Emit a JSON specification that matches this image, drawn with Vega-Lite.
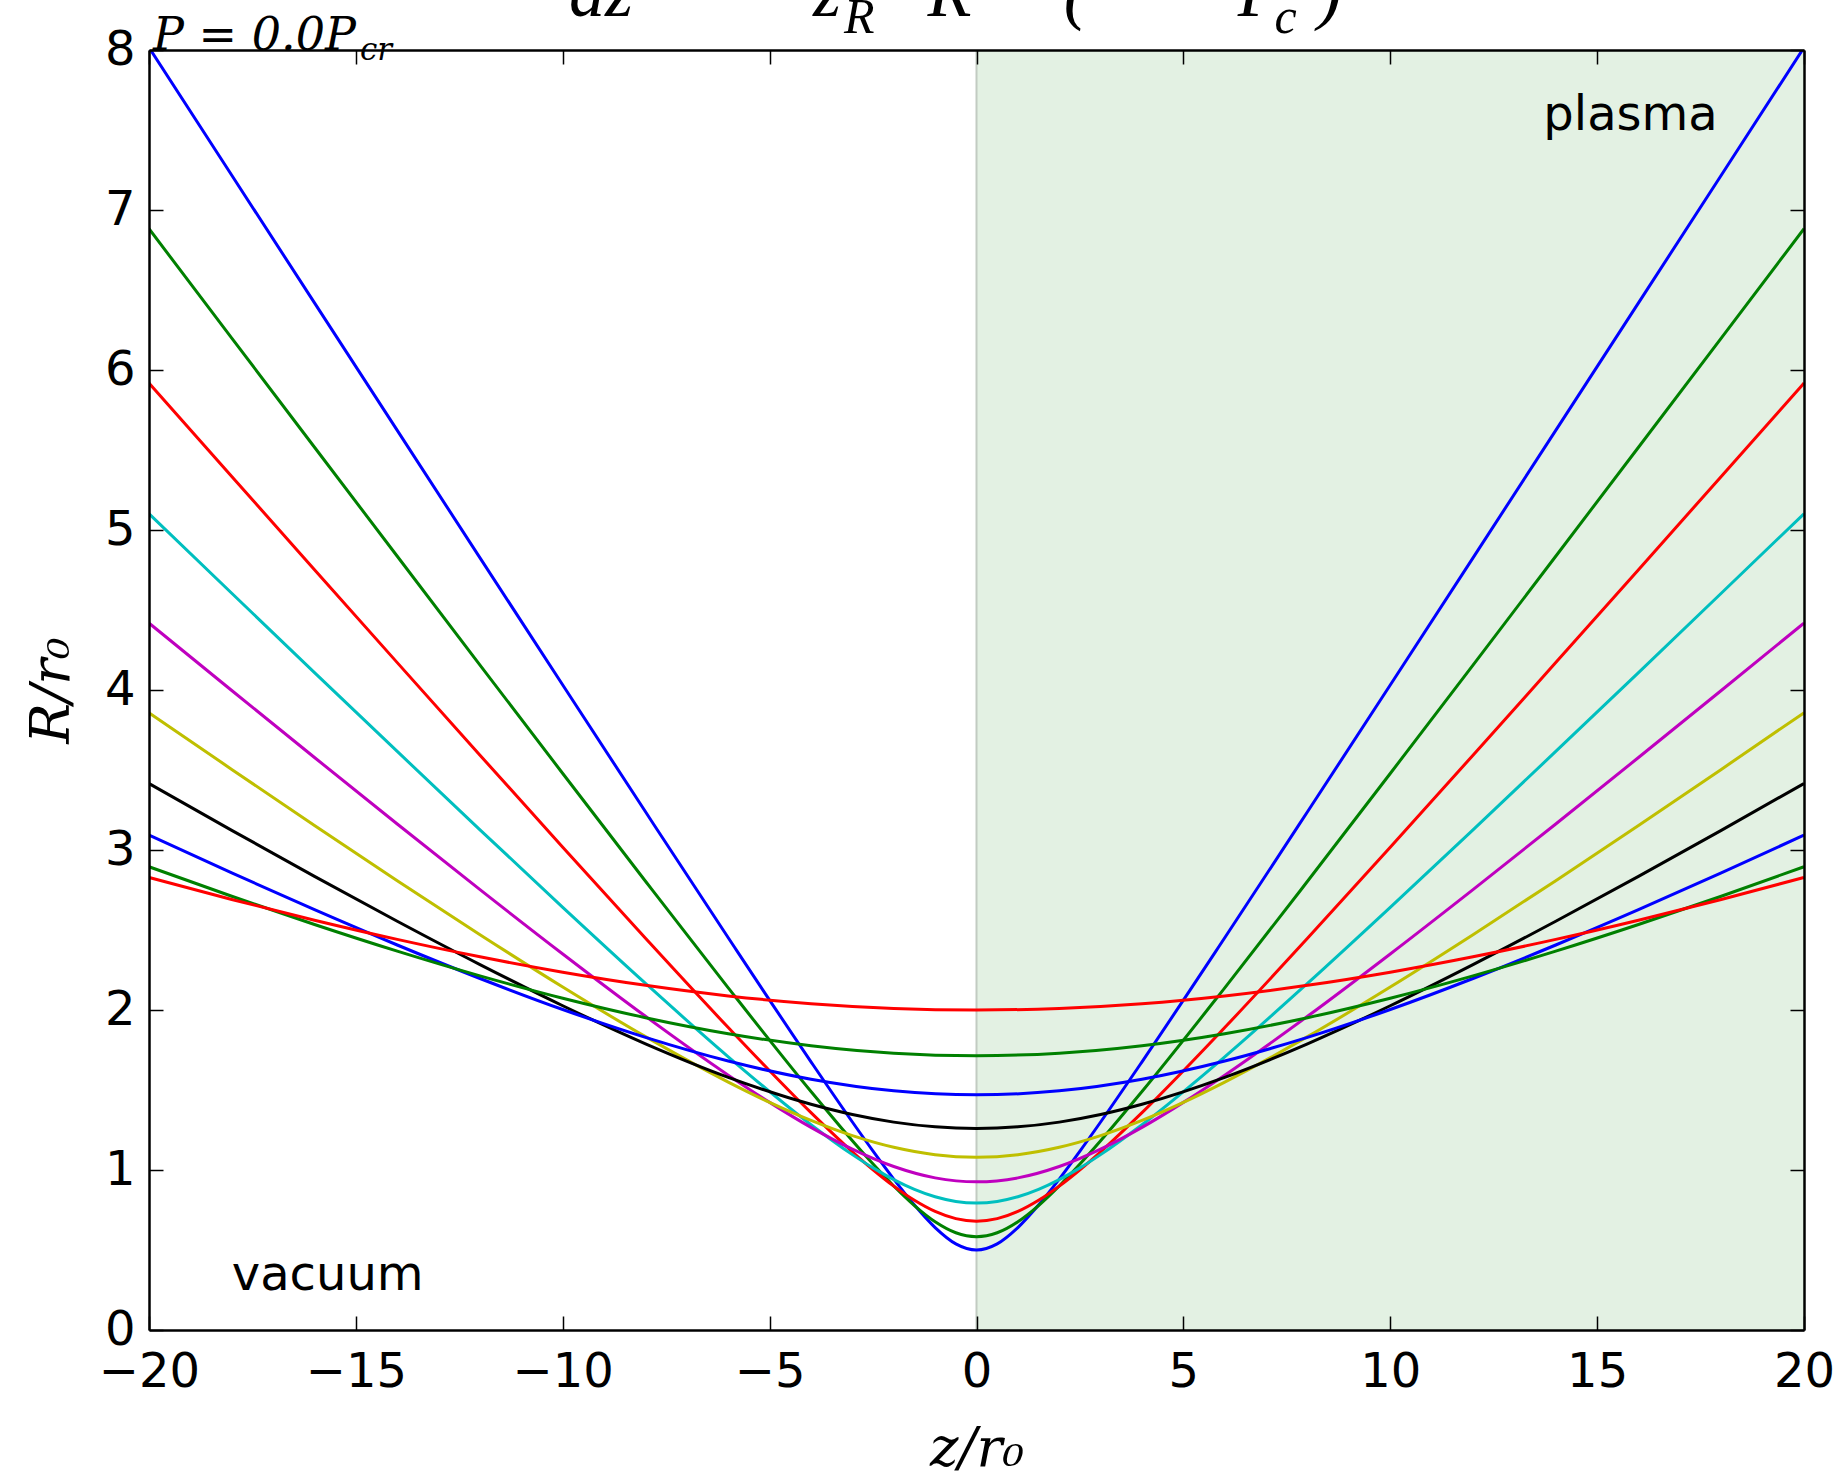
{
  "$schema": "https://vega.github.io/schema/vega-lite/v6.json",
  "width": 1655,
  "height": 1280,
  "autosize": "none",
  "padding": {"left": 149, "top": 50, "right": 36, "bottom": 149},
  "background": "white",
  "config": {"view": {"stroke": null}, "axis": {"grid": false}},
  "title": {
    "text": "dz\u2003\u2003\u2002z\u2003\u2009R\u2003\u2009\u200a(\u2003\u2003\u200aP\u2002)",
    "subtitle": "\u200b\u2003\u2003\u2003\u2003\u2003\u2002R\u2003\u2003\u2003\u2003\u2003\u2003\u2003\u2003c",
    "anchor": "start",
    "frame": "group",
    "dx": 420,
    "offset": -88,
    "baseline": "alphabetic",
    "font": "Liberation Serif",
    "fontStyle": "italic",
    "fontWeight": "normal",
    "fontSize": 72,
    "color": "black",
    "subtitleFont": "Liberation Serif",
    "subtitleFontStyle": "italic",
    "subtitleFontSize": 50,
    "subtitleColor": "black",
    "subtitlePadding": -55
  },
  "datasets": {
    "curves": [
      {"s": "s0", "z": -20, "r": 8.0156}, {"s": "s0", "z": -18, "r": 7.2173}, {"s": "s0", "z": -16, "r": 6.4195}, {"s": "s0", "z": -14, "r": 5.6223}, {"s": "s0", "z": -12, "r": 4.826}, {"s": "s0", "z": -10, "r": 4.0311}, {"s": "s0", "z": -8, "r": 3.2388}, {"s": "s0", "z": -6, "r": 2.4515}, {"s": "s0", "z": -4, "r": 1.6763}, {"s": "s0", "z": -3, "r": 1.3}, {"s": "s0", "z": -2.5, "r": 1.118}, {"s": "s0", "z": -2, "r": 0.9434}, {"s": "s0", "z": -1.5, "r": 0.781}, {"s": "s0", "z": -1, "r": 0.6403}, {"s": "s0", "z": -0.5, "r": 0.5385}, {"s": "s0", "z": 0, "r": 0.5}, {"s": "s0", "z": 0.5, "r": 0.5385}, {"s": "s0", "z": 1, "r": 0.6403}, {"s": "s0", "z": 1.5, "r": 0.781}, {"s": "s0", "z": 2, "r": 0.9434}, {"s": "s0", "z": 2.5, "r": 1.118}, {"s": "s0", "z": 3, "r": 1.3}, {"s": "s0", "z": 4, "r": 1.6763}, {"s": "s0", "z": 6, "r": 2.4515}, {"s": "s0", "z": 8, "r": 3.2388}, {"s": "s0", "z": 10, "r": 4.0311}, {"s": "s0", "z": 12, "r": 4.826}, {"s": "s0", "z": 14, "r": 5.6223}, {"s": "s0", "z": 16, "r": 6.4195}, {"s": "s0", "z": 18, "r": 7.2173}, {"s": "s0", "z": 20, "r": 8.0156},
      {"s": "s1", "z": -20, "r": 6.8827}, {"s": "s1", "z": -18, "r": 6.1997}, {"s": "s1", "z": -16, "r": 5.5173}, {"s": "s1", "z": -14, "r": 4.8359}, {"s": "s1", "z": -12, "r": 4.1559}, {"s": "s1", "z": -10, "r": 3.4782}, {"s": "s1", "z": -8, "r": 2.8045}, {"s": "s1", "z": -6, "r": 2.1385}, {"s": "s1", "z": -4, "r": 1.4905}, {"s": "s1", "z": -3, "r": 1.1826}, {"s": "s1", "z": -2.5, "r": 1.0369}, {"s": "s1", "z": -2, "r": 0.9003}, {"s": "s1", "z": -1.5, "r": 0.7777}, {"s": "s1", "z": -1, "r": 0.6766}, {"s": "s1", "z": -0.5, "r": 0.6079}, {"s": "s1", "z": 0, "r": 0.5833}, {"s": "s1", "z": 0.5, "r": 0.6079}, {"s": "s1", "z": 1, "r": 0.6766}, {"s": "s1", "z": 1.5, "r": 0.7777}, {"s": "s1", "z": 2, "r": 0.9003}, {"s": "s1", "z": 2.5, "r": 1.0369}, {"s": "s1", "z": 3, "r": 1.1826}, {"s": "s1", "z": 4, "r": 1.4905}, {"s": "s1", "z": 6, "r": 2.1385}, {"s": "s1", "z": 8, "r": 2.8045}, {"s": "s1", "z": 10, "r": 3.4782}, {"s": "s1", "z": 12, "r": 4.1559}, {"s": "s1", "z": 14, "r": 4.8359}, {"s": "s1", "z": 16, "r": 5.5173}, {"s": "s1", "z": 18, "r": 6.1997}, {"s": "s1", "z": 20, "r": 6.8827},
      {"s": "s2", "z": -20, "r": 5.9182}, {"s": "s2", "z": -18, "r": 5.3346}, {"s": "s2", "z": -16, "r": 4.7521}, {"s": "s2", "z": -14, "r": 4.1711}, {"s": "s2", "z": -12, "r": 3.5924}, {"s": "s2", "z": -10, "r": 3.0172}, {"s": "s2", "z": -8, "r": 2.448}, {"s": "s2", "z": -6, "r": 1.8904}, {"s": "s2", "z": -4, "r": 1.3585}, {"s": "s2", "z": -3, "r": 1.1138}, {"s": "s2", "z": -2.5, "r": 1.0015}, {"s": "s2", "z": -2, "r": 0.8992}, {"s": "s2", "z": -1.5, "r": 0.8108}, {"s": "s2", "z": -1, "r": 0.7412}, {"s": "s2", "z": -0.5, "r": 0.6961}, {"s": "s2", "z": 0, "r": 0.6804}, {"s": "s2", "z": 0.5, "r": 0.6961}, {"s": "s2", "z": 1, "r": 0.7412}, {"s": "s2", "z": 1.5, "r": 0.8108}, {"s": "s2", "z": 2, "r": 0.8992}, {"s": "s2", "z": 2.5, "r": 1.0015}, {"s": "s2", "z": 3, "r": 1.1138}, {"s": "s2", "z": 4, "r": 1.3585}, {"s": "s2", "z": 6, "r": 1.8904}, {"s": "s2", "z": 8, "r": 2.448}, {"s": "s2", "z": 10, "r": 3.0172}, {"s": "s2", "z": 12, "r": 3.5924}, {"s": "s2", "z": 14, "r": 4.1711}, {"s": "s2", "z": 16, "r": 4.7521}, {"s": "s2", "z": 18, "r": 5.3346}, {"s": "s2", "z": 20, "r": 5.9182},
      {"s": "s3", "z": -20, "r": 5.1018}, {"s": "s3", "z": -18, "r": 4.6046}, {"s": "s3", "z": -16, "r": 4.1091}, {"s": "s3", "z": -14, "r": 3.616}, {"s": "s3", "z": -12, "r": 3.1262}, {"s": "s3", "z": -10, "r": 2.6419}, {"s": "s3", "z": -8, "r": 2.1665}, {"s": "s3", "z": -6, "r": 1.7076}, {"s": "s3", "z": -4, "r": 1.2829}, {"s": "s3", "z": -3, "r": 1.0961}, {"s": "s3", "z": -2.5, "r": 1.0133}, {"s": "s3", "z": -2, "r": 0.9402}, {"s": "s3", "z": -1.5, "r": 0.8791}, {"s": "s3", "z": -1, "r": 0.8327}, {"s": "s3", "z": -0.5, "r": 0.8036}, {"s": "s3", "z": 0, "r": 0.7937}, {"s": "s3", "z": 0.5, "r": 0.8036}, {"s": "s3", "z": 1, "r": 0.8327}, {"s": "s3", "z": 1.5, "r": 0.8791}, {"s": "s3", "z": 2, "r": 0.9402}, {"s": "s3", "z": 2.5, "r": 1.0133}, {"s": "s3", "z": 3, "r": 1.0961}, {"s": "s3", "z": 4, "r": 1.2829}, {"s": "s3", "z": 6, "r": 1.7076}, {"s": "s3", "z": 8, "r": 2.1665}, {"s": "s3", "z": 10, "r": 2.6419}, {"s": "s3", "z": 12, "r": 3.1262}, {"s": "s3", "z": 14, "r": 3.616}, {"s": "s3", "z": 16, "r": 4.1091}, {"s": "s3", "z": 18, "r": 4.6046}, {"s": "s3", "z": 20, "r": 5.1018},
      {"s": "s4", "z": -20, "r": 4.4183}, {"s": "s4", "z": -18, "r": 3.9969}, {"s": "s4", "z": -16, "r": 3.5781}, {"s": "s4", "z": -14, "r": 3.1627}, {"s": "s4", "z": -12, "r": 2.7525}, {"s": "s4", "z": -10, "r": 2.3502}, {"s": "s4", "z": -8, "r": 1.9605}, {"s": "s4", "z": -6, "r": 1.5928}, {"s": "s4", "z": -5, "r": 1.4226}, {"s": "s4", "z": -4, "r": 1.2664}, {"s": "s4", "z": -3, "r": 1.1301}, {"s": "s4", "z": -2, "r": 1.0217}, {"s": "s4", "z": -1, "r": 0.9507}, {"s": "s4", "z": 0, "r": 0.9259}, {"s": "s4", "z": 1, "r": 0.9507}, {"s": "s4", "z": 2, "r": 1.0217}, {"s": "s4", "z": 3, "r": 1.1301}, {"s": "s4", "z": 4, "r": 1.2664}, {"s": "s4", "z": 5, "r": 1.4226}, {"s": "s4", "z": 6, "r": 1.5928}, {"s": "s4", "z": 8, "r": 1.9605}, {"s": "s4", "z": 10, "r": 2.3502}, {"s": "s4", "z": 12, "r": 2.7525}, {"s": "s4", "z": 14, "r": 3.1627}, {"s": "s4", "z": 16, "r": 3.5781}, {"s": "s4", "z": 18, "r": 3.9969}, {"s": "s4", "z": 20, "r": 4.4183},
      {"s": "s5", "z": -20, "r": 3.8578}, {"s": "s5", "z": -18, "r": 3.5038}, {"s": "s5", "z": -16, "r": 3.1535}, {"s": "s5", "z": -14, "r": 2.8084}, {"s": "s5", "z": -12, "r": 2.4707}, {"s": "s5", "z": -10, "r": 2.1437}, {"s": "s5", "z": -8, "r": 1.8333}, {"s": "s5", "z": -6, "r": 1.5495}, {"s": "s5", "z": -5, "r": 1.4226}, {"s": "s5", "z": -4, "r": 1.3096}, {"s": "s5", "z": -3, "r": 1.2146}, {"s": "s5", "z": -2, "r": 1.1418}, {"s": "s5", "z": -1, "r": 1.0958}, {"s": "s5", "z": 0, "r": 1.0801}, {"s": "s5", "z": 1, "r": 1.0958}, {"s": "s5", "z": 2, "r": 1.1418}, {"s": "s5", "z": 3, "r": 1.2146}, {"s": "s5", "z": 4, "r": 1.3096}, {"s": "s5", "z": 5, "r": 1.4226}, {"s": "s5", "z": 6, "r": 1.5495}, {"s": "s5", "z": 8, "r": 1.8333}, {"s": "s5", "z": 10, "r": 2.1437}, {"s": "s5", "z": 12, "r": 2.4707}, {"s": "s5", "z": 14, "r": 2.8084}, {"s": "s5", "z": 16, "r": 3.1535}, {"s": "s5", "z": 18, "r": 3.5038}, {"s": "s5", "z": 20, "r": 3.8578},
      {"s": "s6", "z": -20, "r": 3.4156}, {"s": "s6", "z": -18, "r": 3.1228}, {"s": "s6", "z": -16, "r": 2.8352}, {"s": "s6", "z": -14, "r": 2.5546}, {"s": "s6", "z": -12, "r": 2.2838}, {"s": "s6", "z": -10, "r": 2.0266}, {"s": "s6", "z": -8, "r": 1.7889}, {"s": "s6", "z": -6, "r": 1.5794}, {"s": "s6", "z": -4, "r": 1.4109}, {"s": "s6", "z": -3, "r": 1.3469}, {"s": "s6", "z": -2, "r": 1.2993}, {"s": "s6", "z": -1, "r": 1.2699}, {"s": "s6", "z": 0, "r": 1.2599}, {"s": "s6", "z": 1, "r": 1.2699}, {"s": "s6", "z": 2, "r": 1.2993}, {"s": "s6", "z": 3, "r": 1.3469}, {"s": "s6", "z": 4, "r": 1.4109}, {"s": "s6", "z": 6, "r": 1.5794}, {"s": "s6", "z": 8, "r": 1.7889}, {"s": "s6", "z": 10, "r": 2.0266}, {"s": "s6", "z": 12, "r": 2.2838}, {"s": "s6", "z": 14, "r": 2.5546}, {"s": "s6", "z": 16, "r": 2.8352}, {"s": "s6", "z": 18, "r": 3.1228}, {"s": "s6", "z": 20, "r": 3.4156},
      {"s": "s7", "z": -20, "r": 3.0931}, {"s": "s7", "z": -18, "r": 2.8566}, {"s": "s7", "z": -16, "r": 2.6269}, {"s": "s7", "z": -14, "r": 2.4062}, {"s": "s7", "z": -12, "r": 2.197}, {"s": "s7", "z": -10, "r": 2.003}, {"s": "s7", "z": -8, "r": 1.829}, {"s": "s7", "z": -6, "r": 1.6813}, {"s": "s7", "z": -4, "r": 1.5673}, {"s": "s7", "z": -2, "r": 1.4947}, {"s": "s7", "z": 0, "r": 1.4697}, {"s": "s7", "z": 2, "r": 1.4947}, {"s": "s7", "z": 4, "r": 1.5673}, {"s": "s7", "z": 6, "r": 1.6813}, {"s": "s7", "z": 8, "r": 1.829}, {"s": "s7", "z": 10, "r": 2.003}, {"s": "s7", "z": 12, "r": 2.197}, {"s": "s7", "z": 14, "r": 2.4062}, {"s": "s7", "z": 16, "r": 2.6269}, {"s": "s7", "z": 18, "r": 2.8566}, {"s": "s7", "z": 20, "r": 3.0931},
      {"s": "s8", "z": -20, "r": 2.8953}, {"s": "s8", "z": -18, "r": 2.7108}, {"s": "s8", "z": -16, "r": 2.5344}, {"s": "s8", "z": -14, "r": 2.3678}, {"s": "s8", "z": -12, "r": 2.2134}, {"s": "s8", "z": -10, "r": 2.0737}, {"s": "s8", "z": -8, "r": 1.952}, {"s": "s8", "z": -6, "r": 1.8519}, {"s": "s8", "z": -4, "r": 1.7769}, {"s": "s8", "z": -2, "r": 1.7303}, {"s": "s8", "z": 0, "r": 1.7145}, {"s": "s8", "z": 2, "r": 1.7303}, {"s": "s8", "z": 4, "r": 1.7769}, {"s": "s8", "z": 6, "r": 1.8519}, {"s": "s8", "z": 8, "r": 1.952}, {"s": "s8", "z": 10, "r": 2.0737}, {"s": "s8", "z": 12, "r": 2.2134}, {"s": "s8", "z": 14, "r": 2.3678}, {"s": "s8", "z": 16, "r": 2.5344}, {"s": "s8", "z": 18, "r": 2.7108}, {"s": "s8", "z": 20, "r": 2.8953},
      {"s": "s9", "z": -20, "r": 2.8284}, {"s": "s9", "z": -18, "r": 2.6907}, {"s": "s9", "z": -16, "r": 2.5612}, {"s": "s9", "z": -14, "r": 2.4413}, {"s": "s9", "z": -12, "r": 2.3324}, {"s": "s9", "z": -10, "r": 2.2361}, {"s": "s9", "z": -8, "r": 2.1541}, {"s": "s9", "z": -6, "r": 2.0881}, {"s": "s9", "z": -4, "r": 2.0396}, {"s": "s9", "z": -2, "r": 2.01}, {"s": "s9", "z": 0, "r": 2.0}, {"s": "s9", "z": 2, "r": 2.01}, {"s": "s9", "z": 4, "r": 2.0396}, {"s": "s9", "z": 6, "r": 2.0881}, {"s": "s9", "z": 8, "r": 2.1541}, {"s": "s9", "z": 10, "r": 2.2361}, {"s": "s9", "z": 12, "r": 2.3324}, {"s": "s9", "z": 14, "r": 2.4413}, {"s": "s9", "z": 16, "r": 2.5612}, {"s": "s9", "z": 18, "r": 2.6907}, {"s": "s9", "z": 20, "r": 2.8284}
    ],
    "region": [{"z0": 0, "z1": 20, "r0": 0, "r1": 8}],
    "notes": [{"t": "plasma", "z": 13.7, "r": 7.5}, {"t": "vacuum", "z": -18, "r": 0.25}],
    "power": [{"t": "P = 0.0P", "z": -20, "r": 8}],
    "powersub": [{"t": "cr", "z": -14.9, "r": 7.94}]
  },
  "layer": [
    {
      "data": {"name": "region"},
      "mark": {"type": "rect", "fill": "#008000", "opacity": 0.11, "stroke": null},
      "encoding": {
        "x": {"field": "z0", "type": "quantitative", "scale": {"domain": [-20, 20], "nice": false, "zero": false},
          "axis": {"orient": "bottom", "values": [-20, -15, -10, -5, 0, 5, 10, 15, 20], "title": "z/r\u2080",
            "titleFont": "DejaVu Serif", "titleFontStyle": "italic", "titleFontWeight": "normal", "titleFontSize": 54, "titleColor": "black", "titlePadding": 26,
            "labelFont": "DejaVu Sans", "labelFontSize": 48, "labelColor": "black", "labelPadding": 32, "labelFlush": false, "labelOverlap": false,
            "tickSize": -14, "tickColor": "black", "tickWidth": 1.5, "domainColor": "black", "domainWidth": 2.5, "zindex": 1}},
        "x2": {"field": "z1"},
        "y": {"field": "r0", "type": "quantitative", "scale": {"domain": [0, 8], "nice": false, "zero": false},
          "axis": {"orient": "left", "values": [0, 1, 2, 3, 4, 5, 6, 7, 8], "title": "R/r\u2080",
            "titleFont": "DejaVu Serif", "titleFontStyle": "italic", "titleFontWeight": "normal", "titleFontSize": 54, "titleColor": "black", "titlePadding": 25,
            "labelFont": "DejaVu Sans", "labelFontSize": 48, "labelColor": "black", "labelPadding": 28, "labelFlush": false, "labelOverlap": false,
            "tickSize": -14, "tickColor": "black", "tickWidth": 1.5, "domainColor": "black", "domainWidth": 2.5, "zindex": 1}},
        "y2": {"field": "r1"}
      }
    },
    {
      "data": {"name": "region"},
      "mark": {"type": "rule", "color": "#c2cbc2", "strokeWidth": 2},
      "encoding": {
        "x": {"field": "z0", "type": "quantitative", "scale": {"domain": [-20, 20], "nice": false, "zero": false}, "axis": null}
      }
    },
    {
      "data": {"name": "curves"},
      "mark": {"type": "line", "strokeWidth": 3, "interpolate": "monotone", "clip": true},
      "encoding": {
        "x": {"field": "z", "type": "quantitative", "scale": {"domain": [-20, 20], "nice": false, "zero": false},
          "axis": {"orient": "top", "values": [-20, -15, -10, -5, 0, 5, 10, 15, 20], "labels": false, "title": null,
            "tickSize": -14, "tickColor": "black", "tickWidth": 1.5, "domainColor": "black", "domainWidth": 2.5, "zindex": 1}},
        "y": {"field": "r", "type": "quantitative", "scale": {"domain": [0, 8], "nice": false, "zero": false},
          "axis": {"orient": "right", "values": [0, 1, 2, 3, 4, 5, 6, 7, 8], "labels": false, "title": null,
            "tickSize": -14, "tickColor": "black", "tickWidth": 1.5, "domainColor": "black", "domainWidth": 2.5, "zindex": 1}},
        "color": {"field": "s", "type": "nominal", "legend": null,
          "scale": {"domain": ["s0", "s1", "s2", "s3", "s4", "s5", "s6", "s7", "s8", "s9"],
            "range": ["#0000ff", "#008000", "#ff0000", "#00bfbf", "#bf00bf", "#bfbf00", "#000000", "#0000ff", "#008000", "#ff0000"]}}
      }
    },
    {
      "data": {"name": "notes"},
      "mark": {"type": "text", "font": "DejaVu Sans", "fontSize": 48, "align": "left", "baseline": "alphabetic", "color": "black"},
      "encoding": {
        "x": {"field": "z", "type": "quantitative", "scale": {"domain": [-20, 20], "nice": false, "zero": false}, "axis": null},
        "y": {"field": "r", "type": "quantitative", "scale": {"domain": [0, 8], "nice": false, "zero": false}, "axis": null},
        "text": {"field": "t"}
      }
    },
    {
      "data": {"name": "power"},
      "mark": {"type": "text", "font": "DejaVu Serif", "fontStyle": "italic", "fontSize": 46, "align": "left", "baseline": "alphabetic", "color": "black", "dx": 4},
      "encoding": {
        "x": {"field": "z", "type": "quantitative", "scale": {"domain": [-20, 20], "nice": false, "zero": false}, "axis": null},
        "y": {"field": "r", "type": "quantitative", "scale": {"domain": [0, 8], "nice": false, "zero": false}, "axis": null},
        "text": {"field": "t"}
      }
    },
    {
      "data": {"name": "powersub"},
      "mark": {"type": "text", "font": "DejaVu Serif", "fontStyle": "italic", "fontSize": 31, "align": "left", "baseline": "alphabetic", "color": "black"},
      "encoding": {
        "x": {"field": "z", "type": "quantitative", "scale": {"domain": [-20, 20], "nice": false, "zero": false}, "axis": null},
        "y": {"field": "r", "type": "quantitative", "scale": {"domain": [0, 8], "nice": false, "zero": false}, "axis": null},
        "text": {"field": "t"}
      }
    }
  ],
  "resolve": {"axis": {"x": "independent", "y": "independent"}}
}
